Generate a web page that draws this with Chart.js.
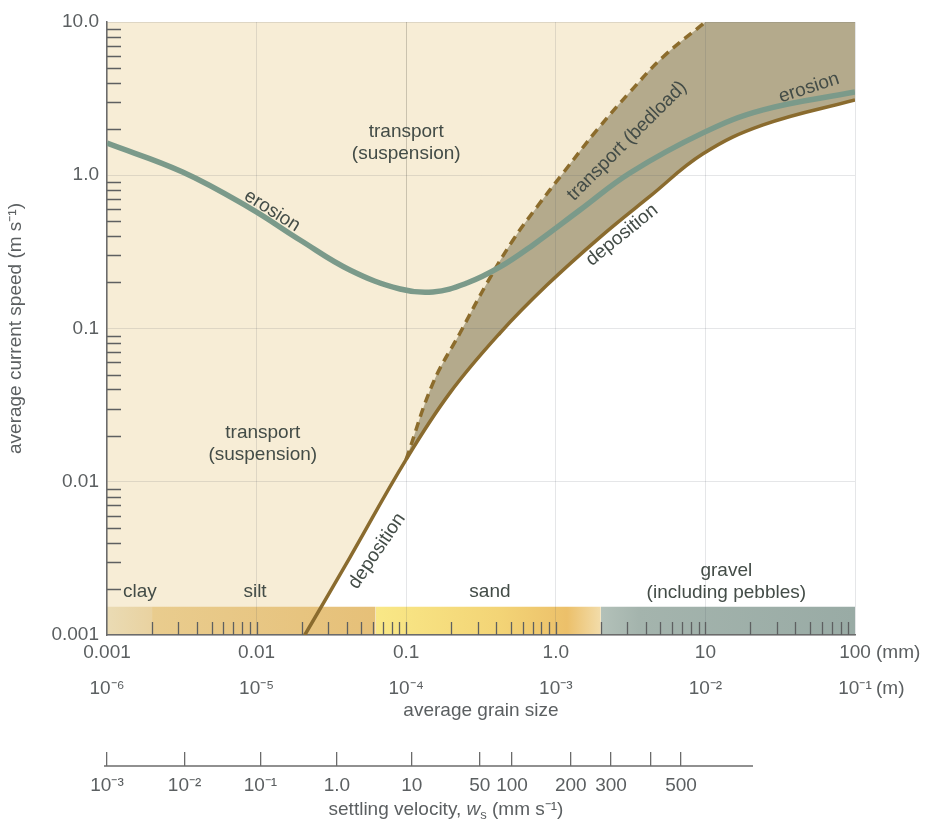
<!DOCTYPE html>
<html>
<head>
<meta charset="utf-8">
<script src="https://cdn.jsdelivr.net/npm/chart.js@4.4.1/dist/chart.umd.min.js"></script>
<style>
  html, body { margin: 0; padding: 0; background: #fff; }
  #wrap { width: 930px; height: 833px; }
</style>
</head>
<body>
<div id="wrap"><canvas id="hjulstrom" width="930" height="833"></canvas></div>
<script>
// values: grain size in mm, current speed in m/s
const erosionSize  = [0.001, 0.0032, 0.00903, 0.0195, 0.042, 0.091, 0.151, 0.255, 0.424, 0.705, 1.45, 3.13, 9.64, 24.3, 100];
const erosionSpeed = [1.62, 1.05, 0.61, 0.378, 0.241, 0.181, 0.173, 0.198, 0.252, 0.351, 0.593, 1.035, 1.89, 2.67, 3.49];

const depositionSize  = [0.021, 0.042, 0.1, 0.196, 0.424, 0.873, 1.98, 4.27, 9.64, 24.3, 100];
const depositionSpeed = [0.001, 0.0032, 0.014, 0.038, 0.0935, 0.192, 0.395, 0.73, 1.38, 2.13, 3.10];

// dashed line: upper limit of bedload transport
const bedloadSize  = [0.1, 0.151, 0.229, 0.347, 0.518, 0.748, 1.12, 1.88, 3.13, 5.21, 10];
const bedloadSpeed = [0.014, 0.044, 0.0935, 0.198, 0.378, 0.621, 1.035, 1.97, 3.49, 5.91, 10];

// grain size classes along the bottom
const bandFrom = [0.001, 0.002, 0.0625, 2];
const bandTo   = [0.002, 0.0625, 2, 100];
const bandTop  = 0.00153;

// axis ticks
const sizeTicks    = [0.001, 0.01, 0.1, 1, 10, 100];
const sizeLabelsMm = ['0.001', '0.01', '0.1', '1.0', '10', '100'];
const sizeLabelsM  = ['10\u207B\u2076', '10\u207B\u2075', '10\u207B\u2074', '10\u207B\u00B3', '10\u207B\u00B2', '10\u207B\u00B9'];
const speedTicks   = [0.001, 0.01, 0.1, 1, 10];
const speedLabels  = ['0.001', '0.01', '0.1', '1.0', '10.0'];

// settling velocity scale: labels and the grain size they sit under
const settlingLabels = ['10\u207B\u00B3', '10\u207B\u00B2', '10\u207B\u00B9', '1.0', '10', '50', '100', '200', '300', '', '500'];
const settlingGrain  = [0.001, 0.0033, 0.0106, 0.0344, 0.109, 0.31, 0.51, 1.26, 2.34, 4.33, 6.87];
const settlingAxisEnd = 20.8;

const xMin = 0.001, xMax = 100, yMin = 0.001, yMax = 10;

const FONT = "'Liberation Sans', Arial, sans-serif";
const tickColor = '#5b5f61';
const textColor = '#434c47';

function pts(xs, ys) {
    return xs.map((x, i) => ({ x: x, y: ys[i] }));
}

// text labels inside the plot (positions in data units)
const notes = [
    { lines: ['transport', '(suspension)'], x: 0.1, y: 1.64, angle: 0 },
    { lines: ['transport', '(suspension)'], x: 0.011, y: 0.0176, angle: 0 },
    { lines: ['erosion'], x: 0.0127, y: 0.585, angle: 32 },
    { lines: ['transport (bedload)'], x: 2.99, y: 1.67, angle: -45 },
    { lines: ['erosion'], x: 49.3, y: 3.71, angle: -18 },
    { lines: ['deposition'], x: 2.77, y: 0.407, angle: -39 },
    { lines: ['deposition'], x: 0.0638, y: 0.00353, angle: -56 },
    { lines: ['clay'], x: 0.00166, y: 0.00191, angle: 0 },
    { lines: ['silt'], x: 0.00976, y: 0.00191, angle: 0 },
    { lines: ['sand'], x: 0.363, y: 0.00191, angle: 0 },
    { lines: ['gravel', '(including pebbles)'], x: 13.8, y: 0.00222, angle: 0 }
];

function bandColor(i) {
    return function(context) {
        const chart = context.chart;
        const xs = chart.scales.x;
        if (!xs || !chart.chartArea) return '#e7c27c';
        const x0 = xs.getPixelForValue(bandFrom[i]);
        const x1 = xs.getPixelForValue(bandTo[i]);
        const g = chart.ctx.createLinearGradient(x0, 0, x1, 0);
        if (i === 0) {
            g.addColorStop(0, '#eadbb4');
            g.addColorStop(1, '#e9d2a0');
        } else if (i === 1) {
            g.addColorStop(0, '#e9cc8e');
            g.addColorStop(1, '#e6c078');
        } else if (i === 2) {
            g.addColorStop(0, '#f9e887');
            g.addColorStop(0.55, '#f3d476');
            g.addColorStop(0.85, '#ecc06a');
            g.addColorStop(1, '#f2dcaa');
        } else {
            g.addColorStop(0, '#b3c1b9');
            g.addColorStop(0.15, '#a4b4ad');
            g.addColorStop(1, '#99aba5');
        }
        return g;
    };
}

const datasets = [
    {   // bedload zone colour under everything
        data: pts([xMin, xMax], [yMax, yMax]),
        fill: 'start', backgroundColor: '#b4aa8c',
        borderWidth: 0, pointRadius: 0, order: 11
    },
    {   // suspension zone, left part
        data: pts([xMin, bedloadSize[0]], [yMax, yMax]),
        fill: 'start', backgroundColor: '#f7edd6',
        borderWidth: 0, pointRadius: 0, order: 10
    },
    {   // dashed limit, suspension zone above it
        data: pts(bedloadSize, bedloadSpeed),
        fill: 'end', backgroundColor: '#f7edd6',
        borderColor: '#8c6c2c', borderWidth: 3.5, borderDash: [9, 6],
        pointRadius: 0, order: 9, tension: 0.4
    },
    {   // deposition curve, white below it
        data: pts(depositionSize, depositionSpeed),
        fill: 'start', backgroundColor: '#ffffff',
        borderColor: '#8a6b2e', borderWidth: 3.5, pointRadius: 0, order: 8,
        tension: 0.4
    },
    {
        data: pts(erosionSize, erosionSpeed),
        fill: false, borderColor: '#7b9a8a', borderWidth: 5.5,
        pointRadius: 0, order: 1, tension: 0.4
    }
];

for (let i = 0; i < bandFrom.length; i++) {
    datasets.push({
        data: pts([bandFrom[i], bandTo[i]], [bandTop, bandTop]),
        fill: 'start', backgroundColor: bandColor(i),
        borderWidth: 0, pointRadius: 0, order: 5
    });
}

const overlayPlugin = {
    id: 'overlay',
    afterDatasetsDraw(chart) {
        const ctx = chart.ctx;
        const area = chart.chartArea;
        const x = chart.scales.x, y = chart.scales.y, x2 = chart.scales.x2;
        ctx.save();

        // minor ticks inside the left axis
        ctx.strokeStyle = '#5e6061';
        ctx.lineWidth = 1.3;
        ctx.beginPath();
        for (let e = -3; e < 1; e++) {
            const d = Math.pow(10, e);
            for (let k = 2; k <= 9; k++) {
                const py = Math.round(y.getPixelForValue(k * d)) + 0.5;
                ctx.moveTo(area.left, py);
                ctx.lineTo(area.left + 14, py);
            }
        }
        // ticks inside the grain size band
        for (let e = -3; e < 2; e++) {
            const d = Math.pow(10, e);
            for (let k = 1; k <= 9; k++) {
                if (e === -3 && k === 1) continue;
                const px = Math.round(x.getPixelForValue(k * d)) + 0.5;
                ctx.moveTo(px, area.bottom);
                ctx.lineTo(px, area.bottom - 13);
            }
        }
        ctx.stroke();

        // settling velocity axis line
        const ly = x2.top + 14;
        ctx.strokeStyle = '#6b6b6b';
        ctx.lineWidth = 1.5;
        ctx.beginPath();
        ctx.moveTo(x2.getPixelForValue(settlingGrain[0]) - 3, ly);
        ctx.lineTo(x2.getPixelForValue(settlingAxisEnd), ly);
        ctx.stroke();

        // notes
        ctx.fillStyle = textColor;
        ctx.font = '19px ' + FONT;
        ctx.textAlign = 'center';
        ctx.textBaseline = 'middle';
        notes.forEach(n => {
            const px = x.getPixelForValue(n.x);
            const py = y.getPixelForValue(n.y);
            ctx.save();
            ctx.translate(px, py);
            ctx.rotate(n.angle * Math.PI / 180);
            const lh = 22;
            n.lines.forEach((t, i) => {
                ctx.fillText(t, 0, (i - (n.lines.length - 1) / 2) * lh);
            });
            ctx.restore();
        });

        // units after the last grain size labels
        ctx.fillStyle = tickColor;
        ctx.textAlign = 'left';
        const ux = x.getPixelForValue(xMax) + 21;
        ctx.fillText('(mm)', ux, x.top + 18);
        ctx.fillText('(m)', ux, x.top + 54);

        // settling velocity title, with italic w and subscript s
        const ty = x2.bottom - 23;
        const parts = [
            { t: 'settling velocity, ', f: '19px ' + FONT, dy: 0 },
            { t: 'w', f: 'italic 19px ' + FONT, dy: 0 },
            { t: 's', f: '13px ' + FONT, dy: 5 },
            { t: ' (mm s\u207B\u00B9)', f: '19px ' + FONT, dy: 0 }
        ];
        let total = 0;
        parts.forEach(p => { ctx.font = p.f; p.w = ctx.measureText(p.t).width; total += p.w; });
        let cx = 446 - total / 2;
        parts.forEach(p => {
            ctx.font = p.f;
            ctx.fillText(p.t, cx, ty + p.dy);
            cx += p.w;
        });

        ctx.restore();
    }
};

Chart.defaults.font.family = FONT;

new Chart(document.getElementById('hjulstrom'), {
    type: 'line',
    data: { datasets: datasets },
    options: {
        responsive: false,
        animation: false,
        devicePixelRatio: 1,
        layout: { padding: { top: 22, right: 75, bottom: 0, left: 0 } },
        plugins: {
            legend: { display: false },
            tooltip: { enabled: false },
            filler: { drawTime: 'beforeDraw' }
        },
        scales: {
            x: {
                type: 'logarithmic', min: xMin, max: xMax, position: 'bottom', weight: 0,
                afterBuildTicks: s => { s.ticks = sizeTicks.map(v => ({ value: v })); },
                afterFit: s => { s.height = 117; },
                ticks: {
                    autoSkip: false, maxRotation: 0, padding: 0, color: tickColor,
                    font: { size: 19, lineHeight: 1.9 },
                    callback: (v, i) => [sizeLabelsMm[i], sizeLabelsM[i]]
                },
                grid: { color: 'rgba(70,80,90,0.14)', lineWidth: 1, drawTicks: false },
                border: { color: '#6b6b6b', width: 1.5 },
                title: {
                    display: true, text: 'average grain size', color: tickColor,
                    font: { size: 19 }, padding: { top: 0, bottom: 30 }
                }
            },
            x2: {
                type: 'logarithmic', min: xMin, max: xMax, position: 'bottom', weight: 1,
                afterBuildTicks: s => { s.ticks = settlingGrain.map(v => ({ value: v })); },
                afterFit: s => { s.height = 81; },
                ticks: {
                    autoSkip: false, maxRotation: 0, padding: 8, color: tickColor,
                    font: { size: 19 },
                    callback: (v, i) => settlingLabels[i]
                },
                grid: { drawOnChartArea: false, drawTicks: true, tickLength: 14, color: '#6b6b6b', lineWidth: 1.3 },
                border: { display: false }
            },
            y: {
                type: 'logarithmic', min: yMin, max: yMax,
                afterBuildTicks: s => { s.ticks = speedTicks.map(v => ({ value: v })); },
                afterFit: s => { s.width = 107; },
                ticks: {
                    autoSkip: false, padding: 8, color: tickColor,
                    font: { size: 19 },
                    callback: (v, i) => speedLabels[i]
                },
                grid: { color: 'rgba(70,80,90,0.14)', lineWidth: 1, drawTicks: false },
                border: { color: '#6b6b6b', width: 1.5 },
                title: {
                    display: true, text: 'average current speed (m s\u207B\u00B9)', color: tickColor,
                    font: { size: 19 }, padding: { top: 4, bottom: 0 }
                }
            }
        }
    },
    plugins: [overlayPlugin]
});
</script>
</body>
</html>
